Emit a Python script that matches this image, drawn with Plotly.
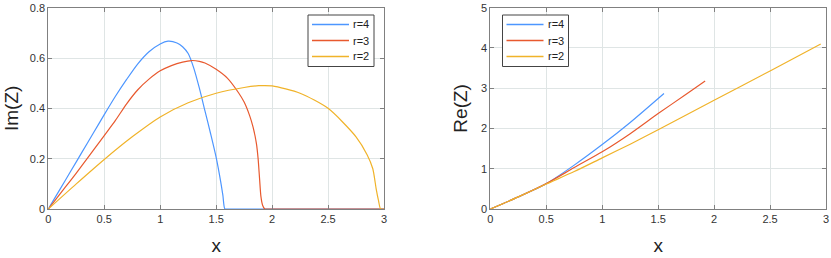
import plotly.graph_objects as go

# ---------------- data ----------------
labels = ["r=4", "r=3", "r=2"]
colors = ["#4d96ff", "#e8592e", "#f0b32a"]

# Left panel: Im(Z) vs x
im_x_r4 = [0, 0.1, 0.2, 0.3, 0.4, 0.5, 0.6, 0.7, 0.8, 0.9, 1.0, 1.07, 1.15, 1.2, 1.25,
           1.3, 1.35, 1.4, 1.45, 1.5, 1.54, 1.56, 1.578, 1.6, 3.0]
im_y_r4 = [0, 0.075, 0.15, 0.225, 0.3, 0.375, 0.448, 0.515, 0.577, 0.625, 0.656, 0.667, 0.66,
           0.645, 0.618, 0.56, 0.48, 0.39, 0.3, 0.205, 0.11, 0.055, 0, 0, 0]
im_x_r3 = [0, 0.1, 0.2, 0.3, 0.4, 0.5, 0.6, 0.7, 0.8, 0.9, 1.0, 1.1, 1.2, 1.28, 1.35, 1.4,
           1.5, 1.6, 1.7, 1.75, 1.8, 1.83, 1.86, 1.875, 1.888, 1.9, 1.915, 1.935, 1.96, 3.0]
im_y_r3 = [0, 0.057, 0.114, 0.172, 0.232, 0.292, 0.352, 0.418, 0.474, 0.516, 0.549, 0.57,
           0.584, 0.59, 0.587, 0.58, 0.555, 0.52, 0.462, 0.425, 0.37, 0.325, 0.26, 0.2, 0.12,
           0.05, 0.015, 0, 0, 0]
im_x_r2 = [0, 0.25, 0.5, 0.75, 1.0, 1.25, 1.5, 1.75, 1.88, 2.0, 2.25, 2.5, 2.75, 2.85, 2.9,
           2.93, 2.95, 2.97, 3.0]
im_y_r2 = [0, 0.1, 0.197, 0.287, 0.366, 0.422, 0.46, 0.483, 0.49, 0.489, 0.46, 0.4, 0.287,
           0.215, 0.16, 0.08, 0.035, 0, 0]

# Right panel: Re(Z) vs x
re_x_r4 = [0, 0.25, 0.5, 0.75, 1.0, 1.25, 1.552]
re_y_r4 = [0, 0.30, 0.63, 1.09, 1.6, 2.15, 2.87]
re_x_r3 = [0, 0.25, 0.5, 0.75, 1.0, 1.25, 1.5, 1.75, 1.92]
re_y_r3 = [0, 0.30, 0.63, 1.03, 1.42, 1.87, 2.37, 2.85, 3.18]
re_x_r2 = [0, 0.25, 0.5, 0.75, 1.0, 1.25, 1.5, 2.0, 2.5, 2.953]
re_y_r2 = [0, 0.30, 0.62, 0.93, 1.27, 1.61, 1.97, 2.70, 3.43, 4.10]

x_ticks = [0, 0.5, 1, 1.5, 2, 2.5, 3]
im_ticks = [0, 0.2, 0.4, 0.6, 0.8]
re_ticks = [0, 1, 2, 3, 4, 5]

# ---------------- figure ----------------
W, H = 831, 258
FONT = "Liberation Sans, Arial, sans-serif"
fig = go.Figure()

left = [(im_x_r4, im_y_r4), (im_x_r3, im_y_r3), (im_x_r2, im_y_r2)]
right = [(re_x_r4, re_y_r4), (re_x_r3, re_y_r3), (re_x_r2, re_y_r2)]

for (xs, ys), lab, col in zip(left, labels, colors):
    fig.add_trace(go.Scatter(x=xs, y=ys, mode="lines", name=lab, showlegend=False,
                             line=dict(color=col, width=1.2, shape="spline", smoothing=0.7),
                             xaxis="x", yaxis="y"))
for (xs, ys), lab, col in zip(right, labels, colors):
    fig.add_trace(go.Scatter(x=xs, y=ys, mode="lines", name=lab, showlegend=False,
                             line=dict(color=col, width=1.2, shape="spline", smoothing=0.7),
                             xaxis="x2", yaxis="y2"))

axis_common = dict(
    showline=True, linecolor="#808080", linewidth=1, mirror="ticks",
    ticks="inside", ticklen=4, tickcolor="#808080",
    showgrid=True, gridcolor="#dfe5e5", gridwidth=1, zeroline=False,
    automargin=False,
    tickfont=dict(family=FONT, size=11, color="#333333"),
)
title_font = dict(family=FONT, size=19, color="#222222")

# MATLAB-style legend boxes (drawn in paper space, from the label/colour lists)
shapes, annotations = [], []
def px_x(v):
    return v / W
def px_y(v):
    return 1 - v / H

for box_left in (308, 502.5):
    shapes.append(dict(type="rect", xref="paper", yref="paper",
                       x0=px_x(box_left), x1=px_x(box_left + 66),
                       y0=px_y(66.5), y1=px_y(15),
                       line=dict(color="#444444", width=1), fillcolor="white", layer="above"))
    for i, (lab, col) in enumerate(zip(labels, colors)):
        yrow = 24.5 + 16 * i
        shapes.append(dict(type="line", xref="paper", yref="paper",
                           x0=px_x(box_left + 4), x1=px_x(box_left + 41),
                           y0=px_y(yrow), y1=px_y(yrow),
                           line=dict(color=col, width=1.3), layer="above"))
        annotations.append(dict(xref="paper", yref="paper", x=px_x(box_left + 43),
                                y=px_y(yrow), text=lab, showarrow=False,
                                xanchor="left", yanchor="middle",
                                font=dict(family=FONT, size=11, color="#222222")))

fig.update_layout(
    width=W, height=H,
    margin=dict(l=0, r=0, t=0, b=0),
    paper_bgcolor="white", plot_bgcolor="white",
    font=dict(family=FONT),
    xaxis=dict(domain=[48.3 / W, 384 / W], range=[0, 3], tickvals=x_ticks,
               title=dict(text="x", font=title_font, standoff=14), anchor="y", **axis_common),
    yaxis=dict(domain=[1 - 209 / H, 1 - 7.7 / H], range=[0, 0.8], tickvals=im_ticks,
               title=dict(text="Im(Z)", font=title_font, standoff=6), anchor="x", **axis_common),
    xaxis2=dict(domain=[490.3 / W, 826 / W], range=[0, 3], tickvals=x_ticks,
                title=dict(text="x", font=title_font, standoff=14), anchor="y2", **axis_common),
    yaxis2=dict(domain=[1 - 209 / H, 1 - 7.7 / H], range=[0, 5], tickvals=re_ticks,
                title=dict(text="Re(Z)", font=title_font, standoff=8), anchor="x2", **axis_common),
    shapes=shapes,
    annotations=annotations,
    showlegend=False,
)

fig.write_html("out.html",
               config={"displayModeBar": False},
               post_script="document.body.style.margin='0';document.body.style.padding='0';")
